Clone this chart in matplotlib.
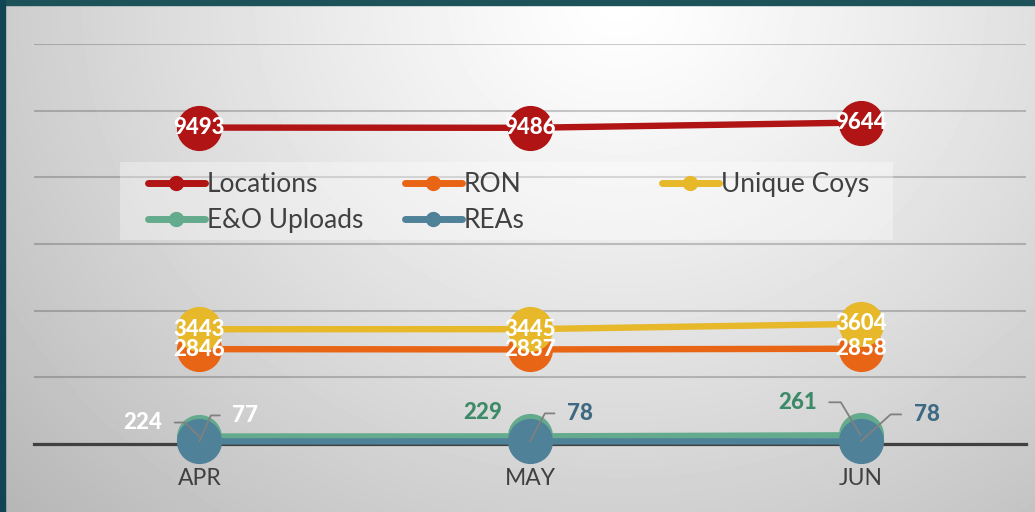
import numpy as np
import matplotlib.pyplot as plt
from matplotlib.lines import Line2D
from matplotlib.patches import Rectangle

plt.rcParams['font.family'] = ['Lato', 'DejaVu Sans']

# data
months = ['APR', 'MAY', 'JUN']
names = ['Locations', 'RON', 'Unique Coys', 'E&O Uploads', 'REAs']
locations = [9493, 9486, 9644]
ron = [2846, 2837, 2858]
unique_coys = [3443, 3445, 3604]
eo_uploads = [224, 229, 261]
reas = [77, 78, 78]

colors = ['#b01414', '#e96516', '#e6b82a', '#63ab8c', '#4f8199']
label_dark = {'E&O Uploads': '#3d8a68', 'REAs': '#3d6a82'}

W, H = 1035, 512
fig = plt.figure(figsize=(W / 100, H / 100), dpi=100)

# gradient background
bg = fig.add_axes([0, 0, 1, 1], zorder=-10)
yy, xx = np.mgrid[0:H, 0:W]
d = np.sqrt(((xx - 620) / 700.0) ** 2 + (yy / 620.0) ** 2)
shade = 1 - 0.23 * np.clip(d, 0, 1.35) ** 1.2
bg.imshow(shade, cmap='gray', vmin=0, vmax=1, aspect='auto', interpolation='bilinear')
bg.axis('off')
fig.patches.append(Rectangle((0, 1 - 5 / H), 1, 5 / H, transform=fig.transFigure,
                             color='#1d5259', zorder=20))
fig.patches.append(Rectangle((0, 0), 5 / W, 1, transform=fig.transFigure,
                             color='#114553', zorder=20))

ax = fig.add_axes([34 / W, 1 - 444 / H, 992 / W, 400 / H])
ax.patch.set_alpha(0)
x = np.arange(len(months))
ax.set_xlim(-0.5, 2.5)
ax.set_ylim(0, 12000)

ax.set_yticks(range(0, 12001, 2000))
ax.yaxis.grid(True, color='black', alpha=0.2, lw=1.5, zorder=1)
ax.tick_params(axis='y', left=False, labelleft=False)
ax.set_xticks(x, months)
ax.tick_params(axis='x', length=0, pad=17, labelsize=16.5, labelcolor='#404040')
for s in ['top', 'left', 'right']:
    ax.spines[s].set_visible(False)
ax.spines['bottom'].set_color('#404040')
ax.spines['bottom'].set_linewidth(2.3)
ax.spines['bottom'].set_zorder(2)

all_series = [locations, ron, unique_coys, eo_uploads, reas]
for k, (nm, vals, c) in enumerate(zip(names, all_series, colors)):
    ax.plot(x, vals, color=c, lw=4.6, marker='o', ms=31.5, mec=c,
            zorder=3 + k, clip_on=False, solid_capstyle='butt')

# centred labels on the big series
for vals in [locations, ron, unique_coys]:
    for i, v in enumerate(vals):
        ax.text(i, v, str(v), ha='center', va='center', color='white',
                fontsize=16, fontweight='black', zorder=12)

# small series labels with leader lines
small_lbl = [
    # series, idx, dx px, dy px, side, leader angle
    ('E&O Uploads', 0, -37, 14, 'right', 136),
    ('REAs', 0, 33, 26, 'left', 66),
    ('E&O Uploads', 1, -28, 24, 'right', None),
    ('REAs', 1, 37, 28, 'left', 62),
    ('E&O Uploads', 2, -44, 33, 'right', 121),
    ('REAs', 2, 53, 27, 'left', 42),
]
for nm, i, dx, dy, side, ang in small_lbl:
    v = eo_uploads[i] if nm == 'E&O Uploads' else reas[i]
    col = 'white' if i == 0 else label_dark[nm]
    ap = None
    if ang is not None:
        ap = dict(arrowstyle='-', color='#808080', lw=1.3, shrinkA=7, shrinkB=0,
                  relpos=(1, 0.5) if side == 'right' else (0, 0.5),
                  connectionstyle='angle,angleA=0,angleB=%d,rad=0' % ang)
    ax.annotate(str(v), (i, v), xytext=(dx, dy), textcoords='offset pixels',
                ha=side, va='center', color=col, fontsize=16, fontweight='black',
                arrowprops=ap, zorder=12, annotation_clip=False)

# legend box with three columns
fig.patches.append(Rectangle((120 / W, 1 - 240 / H), 773 / W, 78 / H,
                             transform=fig.transFigure, facecolor='white',
                             alpha=0.35, edgecolor='none', zorder=1))
handles = [Line2D([], [], color=c, lw=5, marker='o', ms=10, solid_capstyle='round')
           for c in colors]
col_groups = [[0, 3], [1, 4], [2]]
col_x = [148, 405, 662]
for grp, cx in zip(col_groups, col_x):
    fig.legend([handles[j] for j in grp], [names[j] for j in grp], loc='upper left',
               bbox_to_anchor=(cx / W, 1 - 172 / H), frameon=False, borderpad=0,
               borderaxespad=0, handlelength=2.15, handletextpad=0.08,
               labelspacing=0.43, fontsize=19, labelcolor='#404040')

fig.savefig('out.png', dpi=100)
